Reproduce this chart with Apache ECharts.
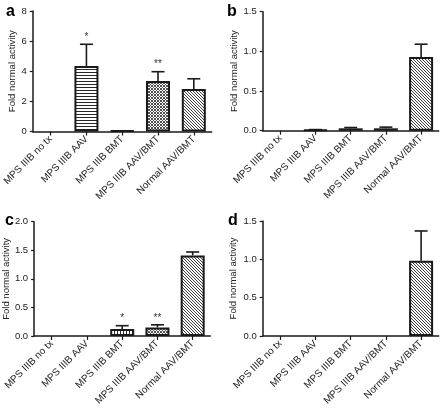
<!DOCTYPE html>
<html><head><meta charset="utf-8">
<script src="https://cdn.jsdelivr.net/npm/echarts@6/dist/echarts.min.js"></script>
<style>html,body{margin:0;padding:0;background:#fff}#c{width:441px;height:408px}</style>
</head><body><div id="c"></div>
<script>
// ---- data ----
const categories = ['MPS IIIB no tx', 'MPS IIIB AAV', 'MPS IIIB BMT', 'MPS IIIB AAV/BMT', 'Normal AAV/BMT'];
const valuesA = [0, 4.35, 0.05, 3.35, 2.82];
const errorsA = [0, 1.44, 0, 0.62, 0.68];
const sigA = ['', '*', '', '**', ''];
const valuesB = [0, 0.01, 0.03, 0.03, 0.93];
const errorsB = [0, 0.004, 0.01, 0.015, 0.16];
const sigB = ['', '', '', '', ''];
const valuesC = [0, 0, 0.12, 0.15, 1.41];
const errorsC = [0, 0, 0.06, 0.045, 0.06];
const sigC = ['', '', '*', '**', ''];
const valuesD = [0, 0, 0, 0, 0.98];
const errorsD = [0, 0, 0, 0, 0.39];
const sigD = ['', '', '', '', ''];
const yMaxA = 8, yStepA = 2;
const yMaxB = 1.5, yStepB = 0.5;
const yMaxC = 2.0, yStepC = 0.5;
const yMaxD = 1.5, yStepD = 0.5;
const panelLetters = ['a', 'b', 'c', 'd'];
const yAxisTitle = 'Fold normal activity';

// ---- patterns ----
function makePattern(kind, dark) {
  const s = 6, cv = document.createElement('canvas');
  cv.width = s; cv.height = s;
  const ctx = cv.getContext('2d');
  const img = ctx.createImageData(s, s);
  for (let y = 0; y < s; y++) for (let x = 0; x < s; x++) {
    let on = false;
    if (kind === 'h') on = y % 3 === 0;
    else if (kind === 'v') on = x % 3 === 0;
    else if (kind === 'd') on = ((x - y + 6) % 3) === 0;
    else if (kind === 'x') on = ((x - y + 6) % 3) === 0 || ((x + y) % 3) === 0;
    const i = (y * s + x) * 4;
    const c = on ? dark : 255;
    img.data[i] = c; img.data[i + 1] = c; img.data[i + 2] = c; img.data[i + 3] = 255;
  }
  ctx.putImageData(img, 0, 0);
  return { image: cv, repeat: 'repeat' };
}
const patterns = ['#ffffff', makePattern('h', 40), makePattern('v', 40), makePattern('x', 80), makePattern('d', 60)];

const FONT = 'Liberation Sans, Arial, Helvetica, sans-serif';
const grids = [
  { left: 30.7, top: 11, width: 181, height: 120.5 },
  { left: 262.7, top: 11.7, width: 176, height: 119 },
  { left: 32.3, top: 221.7, width: 178, height: 117 },
  { left: 262.7, top: 221, width: 176, height: 118.3 }
];
const panels = [
  { v: valuesA, e: errorsA, s: sigA, max: yMaxA, step: yStepA, dec: 0, gap: 13 },
  { v: valuesB, e: errorsB, s: sigB, max: yMaxB, step: yStepB, dec: 1, gap: 23 },
  { v: valuesC, e: errorsC, s: sigC, max: yMaxC, step: yStepC, dec: 1, gap: 21 },
  { v: valuesD, e: errorsD, s: sigD, max: yMaxD, step: yStepD, dec: 1, gap: 24 }
];

const axisLine = { show: true, lineStyle: { color: '#1a1a1a', width: 1.5 } };
const option = {
  backgroundColor: '#ffffff',
  animation: false,
  grid: grids.map(g => Object.assign({ containLabel: false }, g)),
  xAxis: panels.map((p, i) => ({
    type: 'category', gridIndex: i, data: categories,
    axisLine: axisLine,
    axisTick: { show: true, alignWithLabel: true, length: 4, lineStyle: { color: '#1a1a1a', width: 1.2 } },
    axisLabel: { rotate: 45, fontSize: 10, color: '#222', fontFamily: FONT, margin: 6, interval: 0 },
    splitLine: { show: false }
  })),
  yAxis: panels.map((p, i) => ({
    type: 'value', gridIndex: i, min: 0, max: p.max, interval: p.step,
    name: yAxisTitle, nameLocation: 'middle', nameGap: p.gap,
    nameTextStyle: { fontSize: 9.5, color: '#222', fontFamily: FONT },
    axisLine: axisLine,
    axisTick: { show: true, length: 3, lineStyle: { color: '#1a1a1a', width: 1.2 } },
    axisLabel: { fontSize: 9.5, color: '#222', fontFamily: FONT, margin: 6,
      formatter: v => v.toFixed(p.dec) },
    splitLine: { show: false }
  })),
  graphic: panelLetters.map((t, i) => ({
    type: 'text',
    x: [6, 227, 5, 228][i], y: [12, 12, 221, 221][i],
    style: { text: t, font: 'bold 16px ' + FONT, fill: '#000', verticalAlign: 'middle' }
  })),
  series: []
};
panels.forEach((p, i) => {
  option.series.push({
    type: 'bar', xAxisIndex: i, yAxisIndex: i, barWidth: 24,
    data: p.v.map((v, k) => ({ value: v, itemStyle: { color: patterns[k], borderWidth: v > 0 ? 2 : 0 } })),
    itemStyle: { borderColor: '#1a1a1a', borderWidth: 2 }, z: 2
  });
  option.series.push({
    type: 'custom', xAxisIndex: i, yAxisIndex: i, z: 3,
    data: p.v.map((v, k) => [k, v, p.e[k], k]),
    renderItem: (params, api) => {
      const k = api.value(3), v = api.value(1), e = api.value(2);
      const sig = p.s[k];
      if (!e && !sig) return null;
      const p0 = api.coord([k, v]);
      const p1 = api.coord([k, v + e]);
      const st = { stroke: '#1a1a1a', lineWidth: 1.6 };
      const ch = [];
      if (e) {
        ch.push({ type: 'line', shape: { x1: p0[0], y1: p0[1], x2: p1[0], y2: p1[1] }, style: st });
        ch.push({ type: 'line', shape: { x1: p1[0] - 6.5, y1: p1[1], x2: p1[0] + 6.5, y2: p1[1] }, style: st });
      }
      if (sig) {
        ch.push({ type: 'text', x: p1[0], y: p1[1] - 2,
          style: { text: sig, align: 'center', verticalAlign: 'bottom', font: '10px ' + FONT, fill: '#333' } });
      }
      return { type: 'group', children: ch };
    }
  });
});
const chart = echarts.init(document.getElementById('c'), null, { renderer: 'canvas' });
chart.setOption(option);
</script>
</body></html>
